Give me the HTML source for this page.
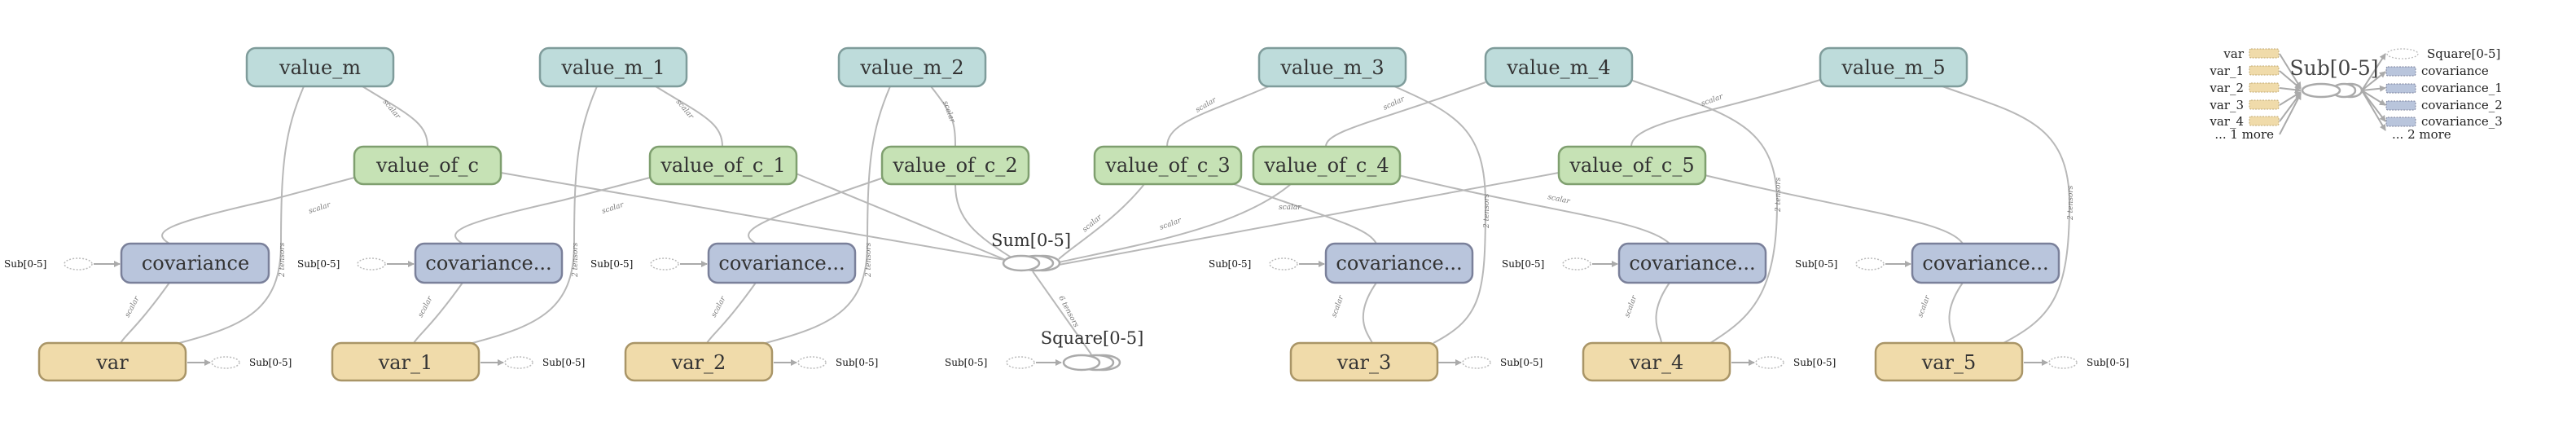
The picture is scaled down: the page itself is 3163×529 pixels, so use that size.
<!DOCTYPE html>
<html><head><meta charset="utf-8"><style>
html,body{margin:0;padding:0;background:#fff;}
svg{display:block;}
.n{font-family:"DejaVu Serif","Liberation Serif",serif;font-size:24px;fill:#333;text-anchor:middle;}
.s{font-family:"DejaVu Serif","Liberation Serif",serif;font-size:12px;fill:#111;}
.l{font-family:"DejaVu Serif","Liberation Serif",serif;font-size:15px;fill:#222;}
.e{fill:none;stroke:#b8b8b8;stroke-width:2;}
.el{font-family:"DejaVu Serif",serif;font-size:9px;fill:#777;font-style:italic;}
.vm{fill:#bedcdb;stroke:#7f9c9b;stroke-width:2.5;}
.vc{fill:#c6e2b5;stroke:#7f9f6f;stroke-width:2.5;}
.cv{fill:#b9c5dc;stroke:#7a809a;stroke-width:2.5;}
.vr{fill:#f0dbaa;stroke:#a99567;stroke-width:2.5;}
</style></head><body>
<svg width="3163" height="529" viewBox="0 0 3163 529" xmlns="http://www.w3.org/2000/svg">
<defs><marker id="a" markerWidth="8" markerHeight="8" refX="7" refY="4" orient="auto" markerUnits="userSpaceOnUse"><path d="M0,0 L8,4 L0,8z" fill="#aaa"/></marker>
<marker id="b" markerWidth="12" markerHeight="12" refX="11" refY="6" orient="auto" markerUnits="userSpaceOnUse"><path d="M0,0 L12,6 L0,12z" fill="#aaa"/></marker></defs>

<!-- edges -->
<g class="e">
<!-- pair 0 -->
<path d="M373 106 C350 160,345 200,345 300 C345 380,300 400,220 421"/>
<path d="M445 106 C500 140,525 150,525 180"/>
<path d="M435 218 L330 246 C200 275,185 285,208 299"/>
<path d="M208 347 C170 400,155 410,148 421"/>
<path d="M615 212 L1240 320"/>
<!-- pair 1 -->
<path d="M733 106 C710 160,705 200,705 300 C705 380,660 400,580 421"/>
<path d="M805 106 C860 140,887 150,887 180"/>
<path d="M798 218 L690 246 C560 275,545 285,568 299"/>
<path d="M568 347 C530 400,515 410,508 421"/>
<path d="M975 212 L1242 322"/>
<!-- pair 2 -->
<path d="M1093 106 C1070 160,1065 200,1065 300 C1065 380,1020 400,940 421"/>
<path d="M1143 106 C1170 140,1173 150,1173 180"/>
<path d="M1085 218 L1050 230 C920 275,905 285,928 299"/>
<path d="M928 347 C890 400,875 410,868 421"/>
<path d="M1173 226 C1173 270,1200 290,1245 318"/>
<!-- pair 3 -->
<path d="M1558 106 C1480 140,1433 150,1433 180"/>
<path d="M1405 226 C1370 270,1320 300,1300 318"/>
<path d="M1515 226 C1640 270,1680 280,1690 299"/>
<path d="M1690 347 C1660 390,1680 410,1685 421"/>
<path d="M1712 106 C1790 140,1824 160,1824 250 C1824 360,1820 390,1760 421"/>
<!-- pair 4 -->
<path d="M1824 101 C1690 150,1628 160,1628 180"/>
<path d="M1585 226 C1520 280,1400 300,1300 322"/>
<path d="M1717 215 C1900 260,2020 270,2050 299"/>
<path d="M2050 347 C2020 390,2040 410,2040 421"/>
<path d="M2002 98 C2120 140,2182 150,2182 250 C2182 360,2150 390,2100 421"/>
<!-- pair 5 -->
<path d="M2235 98 C2100 140,2003 150,2003 180"/>
<path d="M1914 212 L1300 325"/>
<path d="M2093 215 C2280 260,2390 270,2410 299"/>
<path d="M2410 347 C2380 390,2400 410,2400 421"/>
<path d="M2385 106 C2480 140,2541 150,2541 250 C2541 360,2520 390,2460 421"/>
<!-- sum->square -->
<path d="M1268 333 L1340 435"/>
</g>
<g class="el">
<text x="380" y="262" transform="rotate(-18 380 262)">scalar</text>
<text x="470" y="125" transform="rotate(50 470 125)">scalar</text>
<text x="158" y="390" transform="rotate(-62 158 390)">scalar</text>
<text x="740" y="262" transform="rotate(-18 740 262)">scalar</text>
<text x="830" y="125" transform="rotate(50 830 125)">scalar</text>
<text x="518" y="390" transform="rotate(-62 518 390)">scalar</text>
<text x="1158" y="125" transform="rotate(70 1158 125)">scalar</text>
<text x="878" y="390" transform="rotate(-62 878 390)">scalar</text>
<text x="1470" y="138" transform="rotate(-30 1470 138)">scalar</text>
<text x="1700" y="135" transform="rotate(-25 1700 135)">scalar</text>
<text x="2090" y="130" transform="rotate(-20 2090 130)">scalar</text>
<text x="1640" y="390" transform="rotate(-70 1640 390)">scalar</text>
<text x="2000" y="390" transform="rotate(-70 2000 390)">scalar</text>
<text x="2360" y="390" transform="rotate(-70 2360 390)">scalar</text>
<text x="1332" y="285" transform="rotate(-40 1332 285)">scalar</text>
<text x="1425" y="282" transform="rotate(-20 1425 282)">scalar</text>
<text x="1570" y="257">scalar</text>
<text x="1900" y="244" transform="rotate(12 1900 244)">scalar</text>
<text x="349" y="340" transform="rotate(-90 349 340)">2 tensors</text>
<text x="709" y="340" transform="rotate(-90 709 340)">2 tensors</text>
<text x="1069" y="340" transform="rotate(-90 1069 340)">2 tensors</text>
<text x="1828" y="280" transform="rotate(-90 1828 280)">2 tensors</text>
<text x="2186" y="260" transform="rotate(-90 2186 260)">2 tensors</text>
<text x="2545" y="270" transform="rotate(-90 2545 270)">2 tensors</text>
<text x="1300" y="365" transform="rotate(62 1300 365)">6 tensors</text>
</g>

<!-- nodes: value_m -->
<g>
<rect class="vm" x="303" y="59" width="180" height="47" rx="11"/><text class="n" x="393" y="91">value_m</text>
<rect class="vm" x="663" y="59" width="180" height="47" rx="11"/><text class="n" x="753" y="91">value_m_1</text>
<rect class="vm" x="1030" y="59" width="180" height="47" rx="11"/><text class="n" x="1120" y="91">value_m_2</text>
<rect class="vm" x="1546" y="59" width="180" height="47" rx="11"/><text class="n" x="1636" y="91">value_m_3</text>
<rect class="vm" x="1824" y="59" width="180" height="47" rx="11"/><text class="n" x="1914" y="91">value_m_4</text>
<rect class="vm" x="2235" y="59" width="180" height="47" rx="11"/><text class="n" x="2325" y="91">value_m_5</text>

<rect class="vc" x="435" y="180" width="180" height="46" rx="11"/><text class="n" x="525" y="211">value_of_c</text>
<rect class="vc" x="798" y="180" width="180" height="46" rx="11"/><text class="n" x="888" y="211">value_of_c_1</text>
<rect class="vc" x="1083" y="180" width="180" height="46" rx="11"/><text class="n" x="1173" y="211">value_of_c_2</text>
<rect class="vc" x="1344" y="180" width="180" height="46" rx="11"/><text class="n" x="1434" y="211">value_of_c_3</text>
<rect class="vc" x="1539" y="180" width="180" height="46" rx="11"/><text class="n" x="1629" y="211">value_of_c_4</text>
<rect class="vc" x="1914" y="180" width="180" height="46" rx="11"/><text class="n" x="2004" y="211">value_of_c_5</text>

<rect class="cv" x="149" y="299" width="181" height="48" rx="11"/><text class="n" x="240" y="331">covariance</text>
<rect class="cv" x="510" y="299" width="180" height="48" rx="11"/><text class="n" x="600" y="331">covariance...</text>
<rect class="cv" x="870" y="299" width="180" height="48" rx="11"/><text class="n" x="960" y="331">covariance...</text>
<rect class="cv" x="1628" y="299" width="180" height="48" rx="11"/><text class="n" x="1718" y="331">covariance...</text>
<rect class="cv" x="1988" y="299" width="180" height="48" rx="11"/><text class="n" x="2078" y="331">covariance...</text>
<rect class="cv" x="2348" y="299" width="180" height="48" rx="11"/><text class="n" x="2438" y="331">covariance...</text>

<rect class="vr" x="48" y="421" width="180" height="46" rx="11"/><text class="n" x="138" y="453">var</text>
<rect class="vr" x="408" y="421" width="180" height="46" rx="11"/><text class="n" x="498" y="453">var_1</text>
<rect class="vr" x="768" y="421" width="180" height="46" rx="11"/><text class="n" x="858" y="453">var_2</text>
<rect class="vr" x="1585" y="421" width="180" height="46" rx="11"/><text class="n" x="1675" y="453">var_3</text>
<rect class="vr" x="1944" y="421" width="180" height="46" rx="11"/><text class="n" x="2034" y="453">var_4</text>
<rect class="vr" x="2303" y="421" width="180" height="46" rx="11"/><text class="n" x="2393" y="453">var_5</text>
</g>

<!-- Sub stubs into covariance -->
<g>
<g fill="none" stroke="#bbb" stroke-width="1.5" stroke-dasharray="2,2">
<ellipse cx="96" cy="324" rx="17" ry="7"/><ellipse cx="456" cy="324" rx="17" ry="7"/><ellipse cx="816" cy="324" rx="17" ry="7"/>
<ellipse cx="1576" cy="324" rx="17" ry="7"/><ellipse cx="1936" cy="324" rx="17" ry="7"/><ellipse cx="2296" cy="324" rx="17" ry="7"/>
<ellipse cx="277" cy="445" rx="17" ry="7"/><ellipse cx="637" cy="445" rx="17" ry="7"/><ellipse cx="997" cy="445" rx="17" ry="7"/>
<ellipse cx="1813" cy="445" rx="17" ry="7"/><ellipse cx="2173" cy="445" rx="17" ry="7"/><ellipse cx="2533" cy="445" rx="17" ry="7"/>
<ellipse cx="1253" cy="445" rx="17" ry="7"/>
</g>
<g stroke="#aaa" stroke-width="2">
<line x1="115" y1="324" x2="147" y2="324" marker-end="url(#a)"/><line x1="475" y1="324" x2="508" y2="324" marker-end="url(#a)"/><line x1="835" y1="324" x2="868" y2="324" marker-end="url(#a)"/>
<line x1="1595" y1="324" x2="1626" y2="324" marker-end="url(#a)"/><line x1="1955" y1="324" x2="1986" y2="324" marker-end="url(#a)"/><line x1="2315" y1="324" x2="2346" y2="324" marker-end="url(#a)"/>
<line x1="230" y1="445" x2="258" y2="445" marker-end="url(#a)"/><line x1="590" y1="445" x2="618" y2="445" marker-end="url(#a)"/><line x1="950" y1="445" x2="978" y2="445" marker-end="url(#a)"/>
<line x1="1766" y1="445" x2="1794" y2="445" marker-end="url(#a)"/><line x1="2126" y1="445" x2="2154" y2="445" marker-end="url(#a)"/><line x1="2485" y1="445" x2="2514" y2="445" marker-end="url(#a)"/>
<line x1="1272" y1="445" x2="1303" y2="445" marker-end="url(#a)"/>
</g>
<text class="s" x="5" y="328">Sub[0-5]</text><text class="s" x="365" y="328">Sub[0-5]</text><text class="s" x="725" y="328">Sub[0-5]</text>
<text class="s" x="1484" y="328">Sub[0-5]</text><text class="s" x="1844" y="328">Sub[0-5]</text><text class="s" x="2204" y="328">Sub[0-5]</text>
<text class="s" x="306" y="449">Sub[0-5]</text><text class="s" x="666" y="449">Sub[0-5]</text><text class="s" x="1026" y="449">Sub[0-5]</text>
<text class="s" x="1842" y="449">Sub[0-5]</text><text class="s" x="2202" y="449">Sub[0-5]</text><text class="s" x="2562" y="449">Sub[0-5]</text>
<text class="s" x="1160" y="449">Sub[0-5]</text>
</g>

<!-- Sum & Square -->
<g fill="#fff" stroke="#aaa" stroke-width="2.5">
<ellipse cx="1280" cy="323" rx="21" ry="9"/><ellipse cx="1272" cy="323" rx="21" ry="9"/><ellipse cx="1254" cy="323" rx="22" ry="9"/>
<ellipse cx="1354" cy="445" rx="21" ry="9"/><ellipse cx="1346" cy="445" rx="21" ry="9"/><ellipse cx="1328" cy="445" rx="22" ry="9"/>
</g>
<text x="1266" y="302" style="font-family:'DejaVu Serif',serif;font-size:21px;fill:#333;text-anchor:middle">Sum[0-5]</text>
<text x="1341" y="422" style="font-family:'DejaVu Serif',serif;font-size:21px;fill:#333;text-anchor:middle">Square[0-5]</text>

<!-- legend -->
<g>
<g fill="#f0dbaa" stroke="#c0a870" stroke-width="1" stroke-dasharray="2,1.5">
<rect x="2762" y="60" width="36" height="11" rx="2"/><rect x="2762" y="81" width="36" height="11" rx="2"/><rect x="2762" y="102" width="36" height="11" rx="2"/><rect x="2762" y="123" width="36" height="11" rx="2"/><rect x="2762" y="143" width="36" height="11" rx="2"/>
</g>
<g class="l" text-anchor="end">
<text x="2755" y="71">var</text><text x="2755" y="92">var_1</text><text x="2755" y="113">var_2</text><text x="2755" y="134">var_3</text><text x="2755" y="154">var_4</text><text x="2792" y="170">... 1 more</text>
</g>
<g stroke="#aaa" stroke-width="2">
<line x1="2799" y1="66" x2="2825" y2="108" marker-end="url(#a)"/><line x1="2799" y1="87" x2="2825" y2="109" marker-end="url(#a)"/><line x1="2799" y1="108" x2="2825" y2="111" marker-end="url(#a)"/><line x1="2799" y1="129" x2="2825" y2="113" marker-end="url(#a)"/><line x1="2799" y1="149" x2="2825" y2="114" marker-end="url(#a)"/><line x1="2799" y1="165" x2="2825" y2="115" marker-end="url(#a)"/>
<line x1="2900" y1="111" x2="2929" y2="66" marker-end="url(#a)"/><line x1="2900" y1="111" x2="2929" y2="88" marker-end="url(#a)"/><line x1="2900" y1="111" x2="2929" y2="108" marker-end="url(#a)"/><line x1="2900" y1="111" x2="2929" y2="129" marker-end="url(#a)"/><line x1="2900" y1="111" x2="2929" y2="149" marker-end="url(#a)"/><line x1="2900" y1="111" x2="2929" y2="160" marker-end="url(#a)"/>
</g>
<g fill="#fff" stroke="#aaa" stroke-width="2.5">
<ellipse cx="2886" cy="111" rx="14" ry="8"/><ellipse cx="2878" cy="111" rx="14" ry="8"/><ellipse cx="2850" cy="111" rx="23" ry="8"/>
</g>
<text x="2866" y="92" style="font-family:'DejaVu Serif',serif;font-size:25px;fill:#444;text-anchor:middle">Sub[0-5]</text>
<ellipse cx="2950" cy="66" rx="19" ry="6" fill="none" stroke="#bbb" stroke-width="1.3" stroke-dasharray="2,2"/>
<g fill="#b9c5dc" stroke="#7a809a" stroke-width="1" stroke-dasharray="2,1.5">
<rect x="2930" y="82" width="36" height="11" rx="2"/><rect x="2930" y="103" width="36" height="11" rx="2"/><rect x="2930" y="124" width="36" height="11" rx="2"/><rect x="2930" y="144" width="36" height="11" rx="2"/>
</g>
<g class="l">
<text x="2980" y="71">Square[0-5]</text><text x="2973" y="92">covariance</text><text x="2973" y="113">covariance_1</text><text x="2973" y="134">covariance_2</text><text x="2973" y="154">covariance_3</text><text x="2937" y="170">... 2 more</text>
</g>
</g>
</svg>
</body></html>
